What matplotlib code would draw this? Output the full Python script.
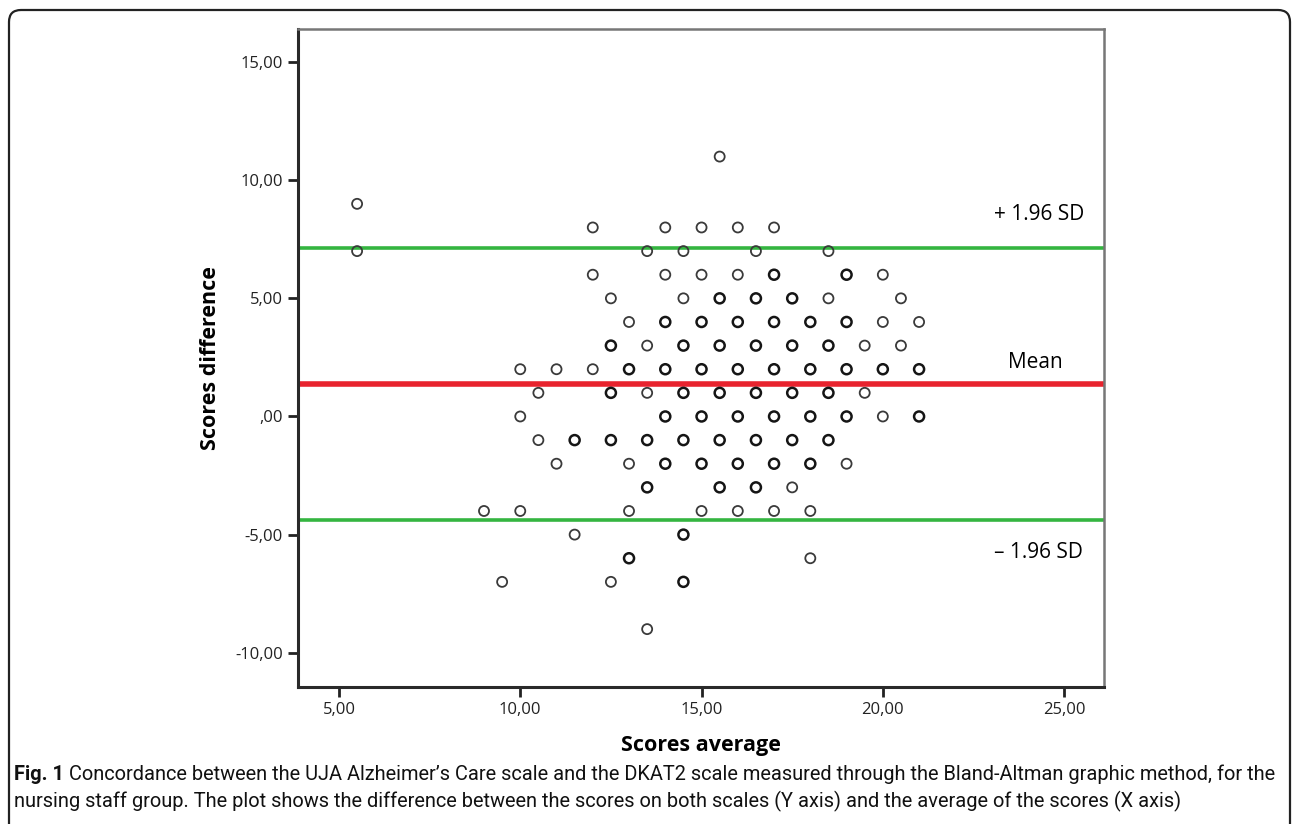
import matplotlib
matplotlib.use("Agg")
import matplotlib.pyplot as plt
from matplotlib.patches import FancyBboxPatch
from matplotlib.transforms import IdentityTransform
from matplotlib import font_manager

# average of scores (x) and difference (y), one list per row of points
diff_rows = [11, 9, 8, 7, 6, 5, 4, 3, 2, 1, 0, -1, -2, -3, -4, -5, -6, -7, -9]
avg_rows = [
    [15.5],
    [5.5],
    [12, 14, 15, 16, 17],
    [5.5, 13.5, 14.5, 16.5, 18.5],
    [12, 14, 15, 16, 17, 19, 20],
    [12.5, 14.5, 15.5, 16.5, 17.5, 18.5, 20.5],
    [13, 14, 15, 16, 17, 18, 19, 20, 21],
    [12.5, 13.5, 14.5, 15.5, 16.5, 17.5, 18.5, 19.5, 20.5],
    [10, 11, 12, 13, 14, 15, 16, 17, 18, 19, 20, 21],
    [10.5, 12.5, 13.5, 14.5, 15.5, 16.5, 17.5, 18.5, 19.5],
    [10, 14, 15, 16, 17, 18, 19, 20, 21],
    [10.5, 11.5, 12.5, 13.5, 14.5, 15.5, 16.5, 17.5, 18.5],
    [11, 13, 14, 15, 16, 17, 18, 19],
    [13.5, 15.5, 16.5, 17.5],
    [9, 10, 13, 15, 16, 17, 18],
    [11.5, 14.5],
    [13, 18],
    [9.5, 12.5, 14.5],
    [13.5],
]
# points that hold more than one case (drawn darker in the original)
rep_rows = [
    [], [], [], [],
    [17, 19],
    [15.5, 16.5, 17.5],
    [14, 15, 16, 17, 18, 19],
    [12.5, 14.5, 15.5, 16.5, 17.5, 18.5],
    [13, 14, 15, 16, 17, 18, 19, 20, 21],
    [12.5, 14.5, 15.5, 16.5, 17.5, 18.5],
    [14, 15, 16, 17, 18, 19, 21],
    [11.5, 12.5, 13.5, 14.5, 15.5, 16.5, 17.5, 18.5],
    [14, 15, 16, 17, 18],
    [13.5, 15.5, 16.5],
    [],
    [14.5],
    [13],
    [14.5],
    [],
]
mean_diff = 1.38
upper_lim = 7.14
lower_lim = -4.39

xticks = [5, 10, 15, 20, 25]
yticks = [-10, -5, 0, 5, 10, 15]

caption_bold = "Fig. 1"
caption_1 = (" Concordance between the UJA Alzheimer\u2019s Care scale and the DKAT2 scale "
             "measured through the Bland-Altman graphic method, for the")
caption_2 = ("nursing staff group. The plot shows the difference between the scores on both "
             "scales (Y axis) and the average of the scores (X axis)")

names = {f.name for f in font_manager.fontManager.ttflist}
main_font = "Open Sans" if "Open Sans" in names else "DejaVu Sans"
cap_font = "Liberation Sans Narrow" if "Liberation Sans Narrow" in names else "Roboto"
plt.rcParams['font.family'] = [main_font, 'DejaVu Sans']


def fmt(v):
    s = f"{v:.2f}".replace('.', ',')
    if s.startswith("0,"):
        s = s[1:]
    return s


single_x, single_y, rep_x, rep_y = [], [], [], []
for d, xs, reps in zip(diff_rows, avg_rows, rep_rows):
    for x in xs:
        if x in reps:
            rep_x.append(x)
            rep_y.append(d)
        else:
            single_x.append(x)
            single_y.append(d)

fig = plt.figure(figsize=(12.92, 8.24), dpi=100)
ax = fig.add_axes([298 / 1292, 1 - 687 / 824, (1104 - 298) / 1292, (687 - 29) / 824])

ax.axhline(upper_lim, color='#34b540', lw=2.6, zorder=1)
ax.axhline(lower_lim, color='#34b540', lw=2.6, zorder=1)
ax.axhline(mean_diff, color='#e8232e', lw=4.0, zorder=1)

ax.scatter(single_x, single_y, s=52, facecolors='none', edgecolors='#3a3a3a', linewidths=1.3, zorder=3)
ax.scatter(rep_x, rep_y, s=52, facecolors='none', edgecolors='#151515', linewidths=1.8, zorder=3)

ax.set_xlim(3.87, 26.1)
ax.set_ylim(-11.45, 16.4)
ax.set_xticks(xticks)
ax.set_yticks(yticks)
ax.set_xticklabels([fmt(v) for v in xticks], fontsize=12, color='#222222')
ax.set_yticklabels([fmt(v) for v in yticks], fontsize=12, color='#222222')
ax.tick_params(direction='out', length=7, width=2, color='#222222', pad=4)

for side in ['left', 'bottom']:
    ax.spines[side].set_linewidth(2.2)
    ax.spines[side].set_color('#2a2a2a')
for side in ['top', 'right']:
    ax.spines[side].set_linewidth(1.8)
    ax.spines[side].set_color('#777777')

ax.set_xlabel('Scores average', fontsize=15.5, fontweight='bold', labelpad=12)
ax.set_ylabel('Scores difference', fontsize=15.5, fontweight='bold', labelpad=10)

ax.text(24.3, upper_lim + 1.4, '+ 1.96 SD', fontsize=15, ha='center', va='center')
ax.text(24.2, mean_diff + 0.9, 'Mean', fontsize=15, ha='center', va='center')
ax.text(24.3, lower_lim - 1.35, '\u2013 1.96 SD', fontsize=15, ha='center', va='center')

# outer frame with rounded corners (bottom runs off the image)
fig.add_artist(FancyBboxPatch((9, -30), 1281, 844, boxstyle='round,pad=0,rounding_size=12',
                              transform=IdentityTransform(), fill=False, lw=1.6, ec='#222222'))

# caption, sized so that the first line spans the frame
renderer = fig.canvas.get_renderer()
size = 15
for _ in range(4):
    tb = fig.text(0, 0, caption_bold, fontsize=size, fontweight='bold', family=[cap_font, 'DejaVu Sans'])
    t1 = fig.text(0, 0, caption_1, fontsize=size, family=[cap_font, 'DejaVu Sans'])
    total = tb.get_window_extent(renderer).width + t1.get_window_extent(renderer).width
    tb.remove()
    t1.remove()
    size = size * 1265 / total

cap_kw = dict(fontsize=size, family=[cap_font, 'DejaVu Sans'], va='center', color='#111111')
tb = fig.text(14 / 1292, 1 - 774 / 824, caption_bold, fontweight='bold', **cap_kw)
w_b = tb.get_window_extent(renderer).width
fig.text((14 + w_b) / 1292, 1 - 774 / 824, caption_1, **cap_kw)
fig.text(14 / 1292, 1 - 801 / 824, caption_2, **cap_kw)

fig.savefig('out.png', dpi=100)
